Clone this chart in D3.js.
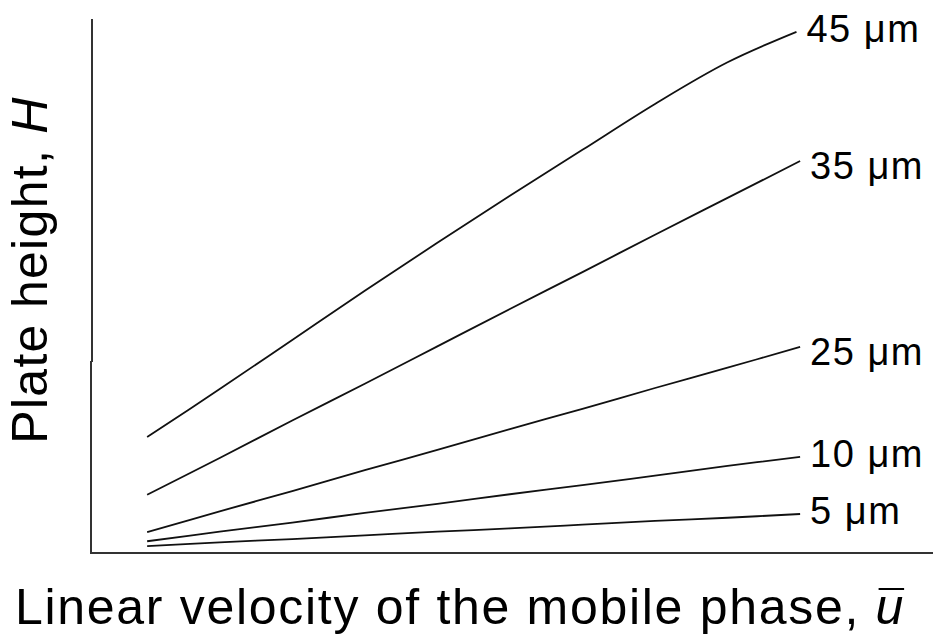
<!DOCTYPE html>
<html>
<head>
<meta charset="utf-8">
<script src="https://cdn.jsdelivr.net/npm/d3@7"></script>
<style>
  html, body { margin: 0; padding: 0; background: #fff; }
  svg { display: block; }
  text { font-family: "Liberation Sans", Arial, Helvetica, sans-serif; fill: #000; }
</style>
</head>
<body>
<svg id="chart" width="933" height="634"></svg>
<script>
// Linear velocity of the mobile phase (arbitrary units)
const velocity = [1, 2, 3, 4, 5, 6, 7, 8, 9, 10];
const velocity45 = [1, 2, 3, 4, 5, 6, 7, 8, 9, 9.95];

// Particle size labels
const particleSizes = ["45 \u03bcm", "35 \u03bcm", "25 \u03bcm", "10 \u03bcm", "5 \u03bcm"];

// Plate height H (arbitrary units) for each particle size
const plate45 = [2.17, 3.07, 3.99, 4.91, 5.81, 6.69, 7.55, 8.41, 9.19, 9.76];
const plate35 = [1.09, 1.78, 2.48, 3.17, 3.87, 4.57, 5.26, 5.96, 6.65, 7.34];
const plate25 = [0.39, 0.78, 1.16, 1.55, 1.93, 2.32, 2.70, 3.09, 3.47, 3.86];
const plate10 = [0.22, 0.40, 0.57, 0.75, 0.92, 1.10, 1.27, 1.45, 1.63, 1.80];
const plate5  = [0.13, 0.20, 0.26, 0.33, 0.40, 0.46, 0.53, 0.60, 0.66, 0.73];

const series = [
  { label: particleSizes[0], u: velocity45, h: plate45 },
  { label: particleSizes[1], u: velocity,   h: plate35 },
  { label: particleSizes[2], u: velocity,   h: plate25 },
  { label: particleSizes[3], u: velocity,   h: plate10 },
  { label: particleSizes[4], u: velocity,   h: plate5 }
];

const svg = d3.select("#chart");
const plotLeft = 92, plotRight = 922, plotTop = 19, plotBottom = 553;

const x = d3.scaleLinear().domain([0.24, 11.68]).range([plotLeft, plotRight]);
const y = d3.scaleLinear().domain([0, 10]).range([plotBottom, plotTop]);

// Axes: plain lines, no ticks
svg.append("line")
  .attr("x1", plotLeft).attr("x2", plotLeft)
  .attr("y1", plotTop).attr("y2", 362)
  .attr("stroke", "#333").attr("stroke-width", 2);
svg.append("line")
  .attr("x1", plotLeft - 1).attr("x2", plotLeft - 1)
  .attr("y1", 361).attr("y2", plotBottom)
  .attr("stroke", "#333").attr("stroke-width", 2);
svg.append("line")
  .attr("x1", plotLeft - 2).attr("x2", 933)
  .attr("y1", plotBottom).attr("y2", plotBottom)
  .attr("stroke", "#333").attr("stroke-width", 2);

const line = d3.line()
  .x(d => x(d[0]))
  .y(d => y(d[1]))
  .curve(d3.curveCatmullRom.alpha(0.5));

// vertical nudge (px) of each end label relative to its line end
const labelNudge = [-3, 4, 4, -4, -4];

const g = svg.append("g");
series.forEach((s, k) => {
  const pts = s.u.map((u, i) => [u, s.h[i]]);
  g.append("path")
    .attr("d", line(pts))
    .attr("fill", "none")
    .attr("stroke", "#111")
    .attr("stroke-width", 1.8);
  const last = pts[pts.length - 1];
  g.append("text")
    .attr("x", x(last[0]) + 10)
    .attr("y", y(last[1]) + labelNudge[k])
    .attr("dy", "0.36em")
    .attr("font-size", 38)
    .attr("letter-spacing", 1.5)
    .text(s.label);
});

// Axis titles
svg.append("text")
  .attr("transform", "translate(47,270) rotate(-90)")
  .attr("text-anchor", "middle")
  .attr("font-size", 50)
  .attr("letter-spacing", 1.3)
  .html('Plate height, <tspan font-style="italic">H</tspan>');

const xTitle = svg.append("text")
  .attr("x", 15)
  .attr("y", 624)
  .attr("font-size", 50)
  .attr("letter-spacing", 1.7)
  .html('Linear velocity of the mobile phase, <tspan font-style="italic">u</tspan>');

// bar over the velocity symbol
const node = xTitle.node();
const n = node.getNumberOfChars();
const box = node.getExtentOfChar(n - 1);
svg.append("line")
  .attr("x1", box.x + 3).attr("x2", box.x + box.width - 1)
  .attr("y1", 589).attr("y2", 589)
  .attr("stroke", "#000").attr("stroke-width", 2);
</script>
</body>
</html>
